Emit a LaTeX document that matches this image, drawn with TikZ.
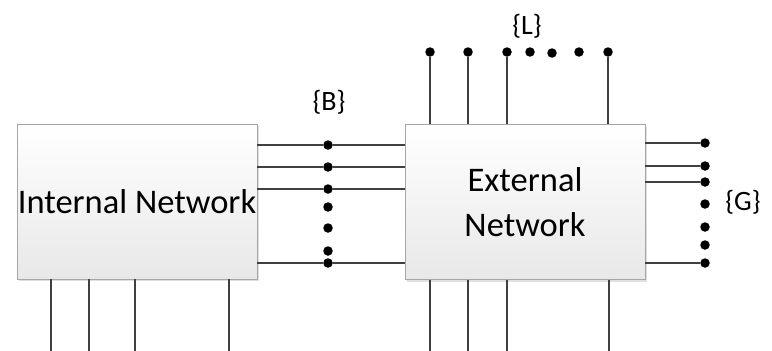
\documentclass[tikz,border=0pt]{standalone}
\usepackage{fontspec}
\setmainfont{Carlito}
\usepackage{tikz}
\usetikzlibrary{shadows, positioning}

\begin{document}
\begin{tikzpicture}[x=1pt, y=-1pt,
    netbox/.style={rectangle, draw=gray!70, top color=white, bottom color=gray!18, minimum width=240pt, minimum height=155pt, inner sep=0pt, align=center, font=\fontsize{34.5}{45}\selectfont, drop shadow={shadow xshift=2pt, shadow yshift=-2pt, opacity=0.25, fill=gray}},
    port/.style={circle, fill=black, inner sep=0pt, minimum size=9.5pt},
    wire/.style={line width=1.4pt, black!75},
    setlabel/.style={font=\fontsize{28}{32}\selectfont}]
    \useasboundingbox (0,0) rectangle (772,351);

    \node (int) at (137,201.5) [netbox] {Internal Network};
    \node (ext) at (525,202) [netbox] {External\\Network};

    % set B between the two networks
    \node (b1) at (328,145) [port] {};
    \node (b2) at (328,167) [port] {};
    \node (b3) at (328,189) [port] {};
    \node (b4) at (328,207) [port] {};
    \node (b5) at (328,228) [port] {};
    \node (b6) at (328,251) [port] {};
    \node (b7) at (328,263) [port] {};
    \node (B) at (329,102) [setlabel] {\{B\}};

    \draw [wire] (int.east |- b1) -- (b1) -- (ext.west |- b1);
    \draw [wire] (int.east |- b2) -- (b2) -- (ext.west |- b2);
    \draw [wire] (int.east |- b3) -- (b3) -- (ext.west |- b3);
    \draw [wire] (int.east |- b7) -- (b7) -- (ext.west |- b7);

    % set L above the external network
    \node (l1) at (430,52) [port] {};
    \node (l2) at (468,52) [port] {};
    \node (l3) at (507,52) [port] {};
    \node (l4) at (530,52) [port] {};
    \node (l5) at (552,53) [port] {};
    \node (l6) at (579,52) [port] {};
    \node (l7) at (608,52) [port] {};
    \node (L) at (527,26) [setlabel] {\{L\}};

    \draw [wire] (l1) -- (l1 |- ext.north);
    \draw [wire] (l2) -- (l2 |- ext.north);
    \draw [wire] (l3) -- (l3 |- ext.north);
    \draw [wire] (l7) -- (l7 |- ext.north);

    % set G right of the external network
    \node (g1) at (705,143) [port] {};
    \node (g2) at (705,166) [port] {};
    \node (g3) at (705,182) [port] {};
    \node (g4) at (705,204) [port] {};
    \node (g5) at (705,227) [port] {};
    \node (g6) at (705,245) [port] {};
    \node (g7) at (705,263) [port] {};
    \node (G) at (743,202) [setlabel] {\{G\}};

    \draw [wire] (ext.east |- g1) -- (g1);
    \draw [wire] (ext.east |- g2) -- (g2);
    \draw [wire] (ext.east |- g3) -- (g3);
    \draw [wire] (ext.east |- g7) -- (g7);

    % open wires below both networks
    \coordinate (i1) at (51,351);
    \coordinate (i2) at (89,351);
    \coordinate (i3) at (135,351);
    \coordinate (i4) at (229,351);
    \coordinate (e1) at (430,351);
    \coordinate (e2) at (468,351);
    \coordinate (e3) at (507,351);
    \coordinate (e4) at (609,351);

    \draw [wire] (i1 |- int.south) -- (i1);
    \draw [wire] (i2 |- int.south) -- (i2);
    \draw [wire] (i3 |- int.south) -- (i3);
    \draw [wire] (i4 |- int.south) -- (i4);
    \draw [wire] (e1 |- ext.south) -- (e1);
    \draw [wire] (e2 |- ext.south) -- (e2);
    \draw [wire] (e3 |- ext.south) -- (e3);
    \draw [wire] (e4 |- ext.south) -- (e4);
\end{tikzpicture}
\end{document}
